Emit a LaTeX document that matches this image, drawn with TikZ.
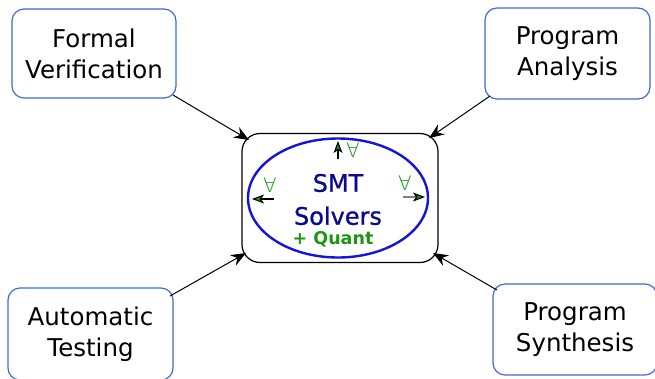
\documentclass[tikz,border=0pt]{standalone}
\usepackage{fontspec}
\setmainfont{DejaVu Sans}
\newfontfamily\coresans[FakeBold=0.9]{DejaVu Sans}
\newfontfamily\thinsans{DejaVu Sans ExtraLight}
\usetikzlibrary{arrows.meta,shapes.geometric}
\definecolor{boxblue}{RGB}{65,105,215}
\definecolor{ellblue}{RGB}{20,20,215}
\definecolor{navy}{RGB}{10,10,140}
\definecolor{qgreen}{RGB}{30,150,20}
\tikzset{
  appbox/.style={draw=boxblue, line width=1.2pt, rounded corners=12pt, align=center,
    font=\fontsize{24.5}{31}\selectfont, inner sep=0pt},
  feed/.style={-{Stealth[length=15pt,width=12pt,inset=5pt]}, line width=1pt},
  quantarrow/.style={-{Stealth[length=12pt,width=9pt,inset=3pt,color=black,fill=qgreen]}, line width=1.1pt},
  forall/.style={text=qgreen, font=\thinsans\fontsize{20}{20}\selectfont, inner sep=0pt}
}
\begin{document}
\begin{tikzpicture}[x=1pt,y=-1pt]
\useasboundingbox (0,0) rectangle (655,378);

% application areas
\node[appbox, minimum width=164pt, minimum height=89pt] (fv) at (94,53.5) {Formal\\Verification};
\node[appbox, minimum width=165pt, minimum height=91pt] (pa) at (567.5,53.5) {Program\\Analysis};
\node[appbox, minimum width=165pt, minimum height=92pt] (at) at (90.5,334) {Automatic\\Testing};
\node[appbox, minimum width=164pt, minimum height=91pt] (ps) at (575,329.5) {Program\\Synthesis};

% solver core
\node[draw, line width=1.2pt, rounded corners=18pt, minimum width=196pt, minimum height=129pt] (smt) at (340,198) {};
\node[draw=ellblue, line width=2.4pt, ellipse, minimum width=180pt, minimum height=119pt] (ell) at (338,198) {};
\node[text=navy, font=\coresans\fontsize{24}{33}\selectfont, align=center] (lbl) at (338,199.5) {SMT\\Solvers};
\node[text=qgreen, font=\bfseries\fontsize{17.5}{17.5}\selectfont] (qnt) at (333,239.5) {+ Quant};

% quantifier hints
\coordinate (tA) at (338,159);
\coordinate (tB) at (338,141);
\coordinate (lA) at (274,199);
\coordinate (lB) at (252,199);
\coordinate (rA) at (403,197);
\coordinate (rB) at (425,197);
\draw[quantarrow] (tA) -- (tB);
\draw[quantarrow] (lA) -- (lB);
\draw[quantarrow, draw=gray] (rA) -- (rB);
\node[forall] (fq1) at (353,150) {∀};
\node[forall] (fq2) at (270,185) {∀};
\node[forall] (fq3) at (405,183) {∀};

% connectors into the core
\coordinate (fvc) at (173,95);
\coordinate (pac) at (490,96);
\coordinate (atc) at (170,296);
\coordinate (psc) at (497,290);
\coordinate (s1) at (249,140);
\coordinate (s2) at (429,138);
\coordinate (s3) at (246,253);
\coordinate (s4) at (433,253);
\draw[feed] (fvc) -- (s1);
\draw[feed] (pac) -- (s2);
\draw[feed] (atc) -- (s3);
\draw[feed] (psc) -- (s4);
\end{tikzpicture}
\end{document}
